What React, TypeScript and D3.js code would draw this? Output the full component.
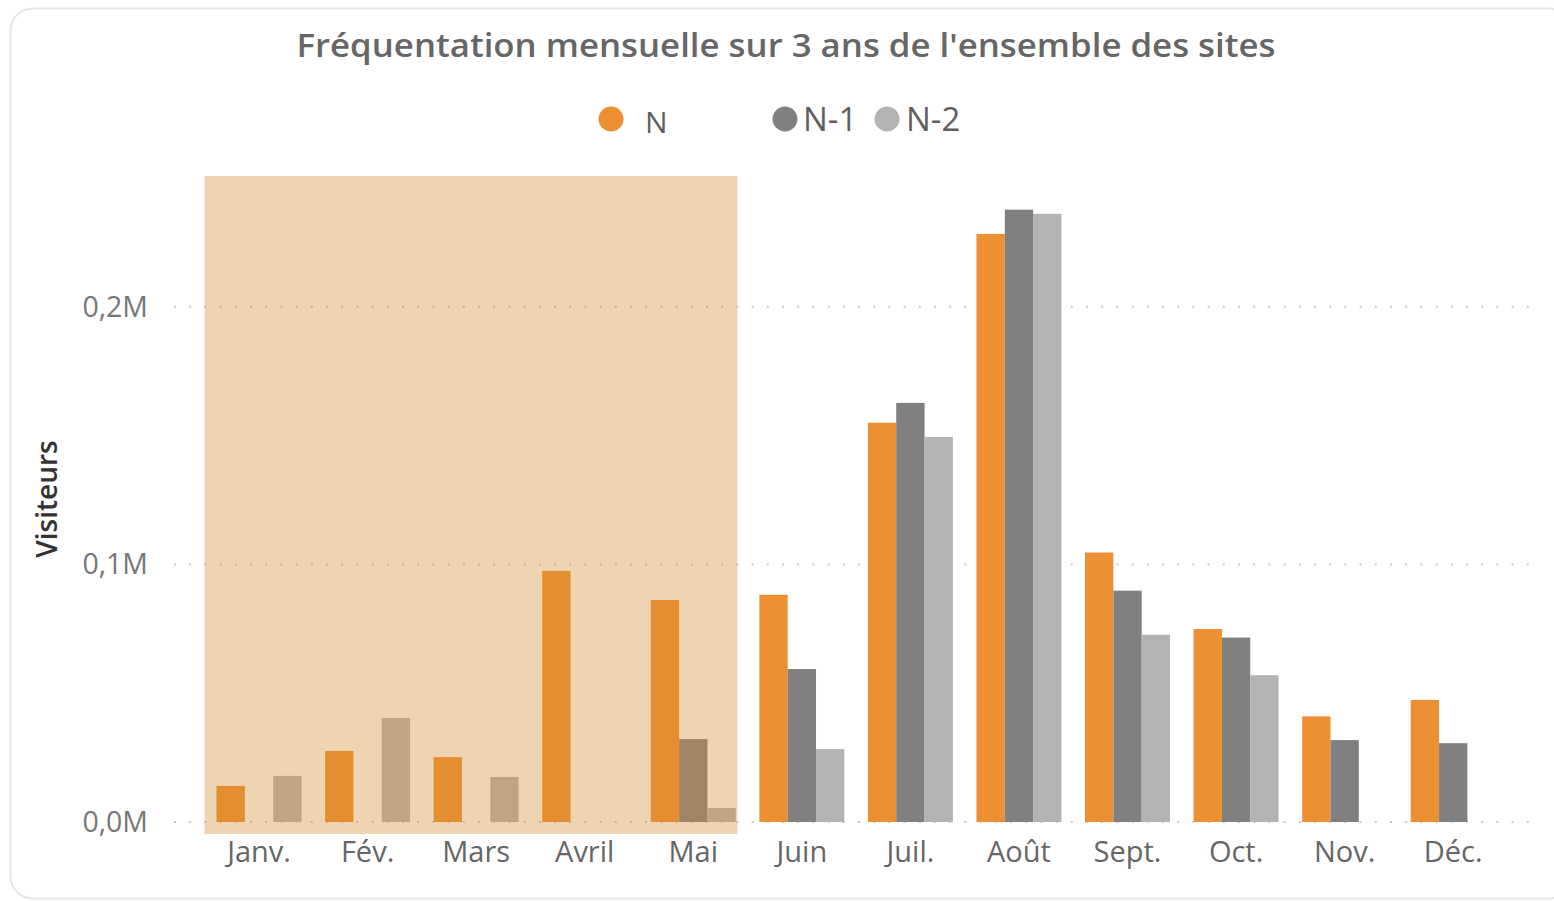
import React from 'react'
import * as d3 from 'd3'

// mois et séries
const months = ['Janv.', 'Fév.', 'Mars', 'Avril', 'Mai', 'Juin', 'Juil.', 'Août', 'Sept.', 'Oct.', 'Nov.', 'Déc.']
const series = ['N', 'N-1', 'N-2']
const valuesN = [14000, 27600, 25200, 97500, 86200, 88200, 155000, 228300, 104600, 74900, 41000, 47400]
const valuesN1 = [null, null, null, null, 32200, 59400, 162700, 237700, 89800, 71600, 31800, 30600]
const valuesN2 = [17900, 40400, 17500, null, 5400, 28300, 149500, 236100, 72700, 57000, null, null]
const yTicks = [0, 100000, 200000]
const highlighted = ['Janv.', 'Mai'] // zone surlignée
const colors = ['#ED8F33', '#808080', '#B3B3B3']

const W = 1554
const H = 901

const App = () => {
    const ref = React.useRef<SVGSVGElement>(null)

    React.useEffect(() => {
        const svg = d3.select(ref.current)
        svg.selectAll('*').remove()

        const font = "'Segoe UI', 'Open Sans', sans-serif"

        // carte
        svg.append('rect')
            .attr('x', 10.5).attr('y', 8.5)
            .attr('width', 1560).attr('height', 890)
            .attr('rx', 22)
            .attr('fill', '#fff')
            .attr('stroke', '#e6e6e6')
            .attr('stroke-width', 2)

        svg.append('text')
            .attr('x', 786).attr('y', 57)
            .attr('text-anchor', 'middle')
            .attr('font-family', font)
            .attr('font-weight', 600)
            .attr('font-size', 33)
            .attr('fill', '#666666')
            .attr('textLength', 979)
            .attr('lengthAdjust', 'spacingAndGlyphs')
            .text("Fréquentation mensuelle sur 3 ans de l'ensemble des sites")

        // légende
        const legend = [
            { cx: 611, tx: 645, size: 30, ty: 133 },
            { cx: 785, tx: 803, size: 33, ty: 131 },
            { cx: 887, tx: 906, size: 33, ty: 131 },
        ]
        legend.forEach((l, i) => {
            svg.append('circle').attr('cx', l.cx).attr('cy', 119).attr('r', 12.5).attr('fill', colors[i])
            svg.append('text')
                .attr('x', l.tx).attr('y', l.ty)
                .attr('font-family', font)
                .attr('font-size', l.size)
                .attr('fill', '#605e5c')
                .text(series[i])
        })

        const x = d3.scaleBand().domain(months).range([204.75, 1507.5]).paddingInner(0.217).paddingOuter(0.1085)
        const xs = d3.scaleBand().domain(series).range([0, x.bandwidth()])
        const y = d3.scaleLinear().domain([0, 250000]).range([822, 178])

        // grille pointillée
        svg.append('g')
            .selectAll('line')
            .data(yTicks)
            .enter()
            .append('line')
            .attr('x1', 174).attr('x2', 1540)
            .attr('y1', (d) => y(d)).attr('y2', (d) => y(d))
            .attr('stroke', '#c8c8c8')
            .attr('stroke-width', 2)
            .attr('stroke-dasharray', '2 13.2')

        svg.append('g')
            .selectAll('text')
            .data(yTicks)
            .enter()
            .append('text')
            .attr('x', 148).attr('y', (d) => y(d))
            .attr('dy', '0.35em')
            .attr('text-anchor', 'end')
            .attr('font-family', font)
            .attr('font-size', 28.5)
            .attr('fill', '#777777')
            .text((d) => (d / 1e6).toFixed(1).replace('.', ',') + 'M')

        svg.append('text')
            .attr('transform', 'translate(57,499) rotate(-90)')
            .attr('text-anchor', 'middle')
            .attr('font-family', font)
            .attr('font-weight', 600)
            .attr('font-size', 28)
            .attr('fill', '#333333')
            .text('Visiteurs')

        // barres
        const all = [valuesN, valuesN1, valuesN2]
        const bars = months.flatMap((m, i) =>
            series.map((s, j) => ({ m, s, j, v: all[j][i] })).filter((d) => d.v != null)
        )
        svg.append('g')
            .selectAll('rect')
            .data(bars)
            .enter()
            .append('rect')
            .attr('x', (d) => (x(d.m) as number) + (xs(d.s) as number))
            .attr('width', xs.bandwidth())
            .attr('y', (d) => y(d.v as number))
            .attr('height', (d) => y(0) - y(d.v as number))
            .attr('fill', (d) => colors[d.j])

        svg.append('g')
            .selectAll('text')
            .data(months)
            .enter()
            .append('text')
            .attr('x', (d) => (x(d) as number) + x.bandwidth() / 2)
            .attr('y', 862)
            .attr('text-anchor', 'middle')
            .attr('font-family', font)
            .attr('font-size', 29)
            .attr('fill', '#666666')
            .text((d) => d)

        // zone surlignée Janv.–Mai
        const hx0 = (x(highlighted[0]) as number) - 12
        const hx1 = (x(highlighted[1]) as number) + x.bandwidth() + 1.5
        svg.append('rect')
            .attr('x', hx0).attr('y', y(250000) - 2)
            .attr('width', hx1 - hx0)
            .attr('height', y(0) + 12 - (y(250000) - 2))
            .attr('fill', 'rgb(210,142,47)')
            .attr('opacity', 0.38)
    }, [])

    return (
        <svg ref={ref} width={W} height={H} style={{ position: 'absolute', left: 0, top: 0 }} />
    )
}

export default App
